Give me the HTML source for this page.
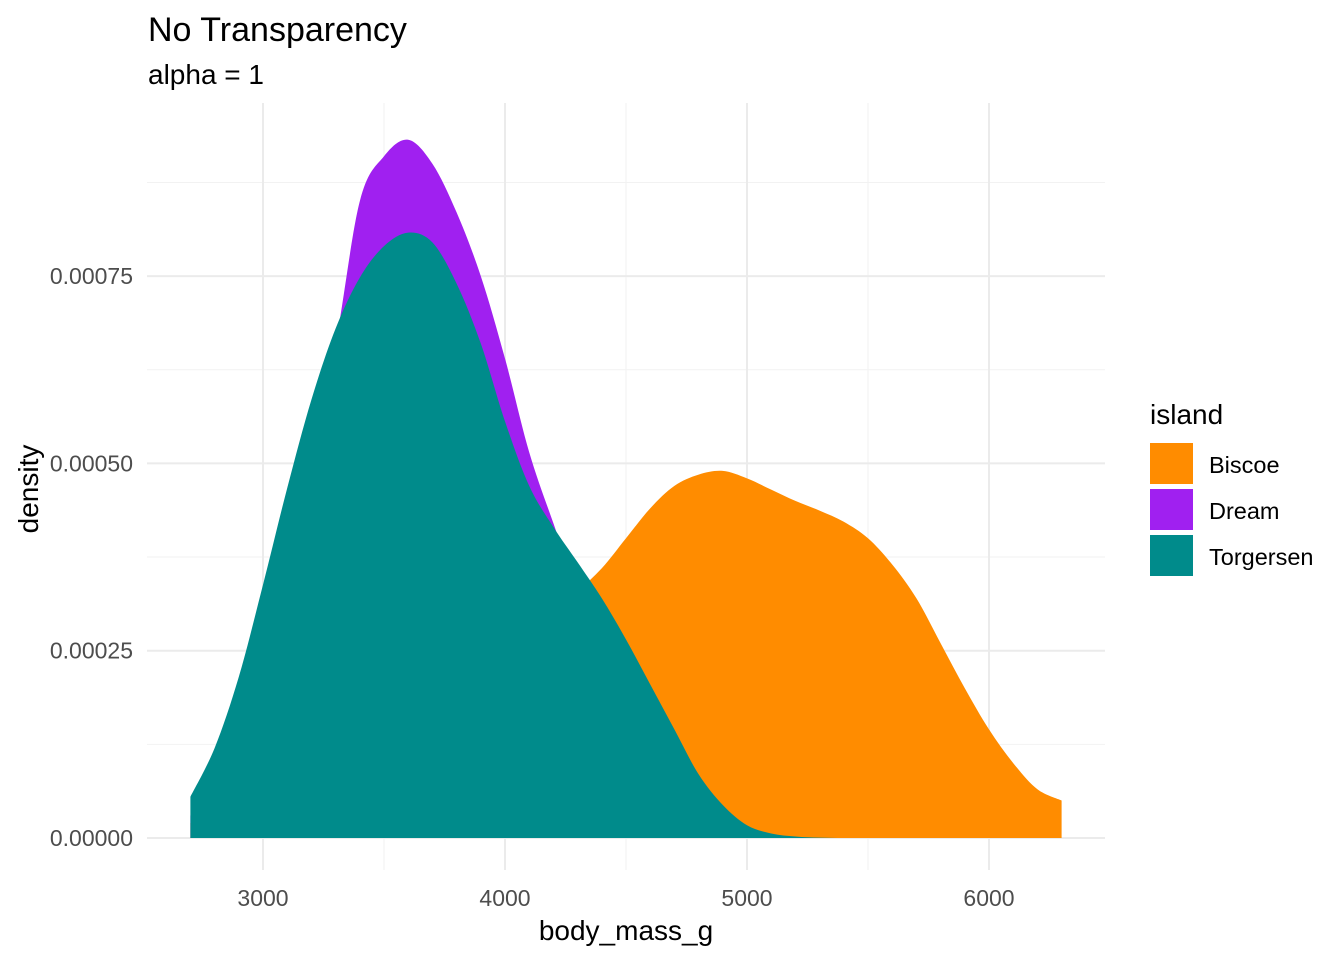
<!DOCTYPE html>
<html><head><meta charset="utf-8"><style>
body{margin:0;background:#fff}
svg text{font-family:"Liberation Sans",Arial,sans-serif}
</style></head><body>
<svg id="chart" width="1344" height="960" xmlns="http://www.w3.org/2000/svg">
<text x="148" y="41" font-size="34" fill="#000">No Transparency</text>
<text x="148" y="84" font-size="28" fill="#000">alpha = 1</text>
<g id="grid"></g>
<g id="areas"></g>
<g id="axes"></g>
<text x="626" y="940" font-size="28" text-anchor="middle" fill="#000">body_mass_g</text>
<text transform="translate(38,489) rotate(-90)" font-size="28" text-anchor="middle" fill="#000">density</text>
<g id="legend">
<text x="1150" y="424" font-size="28" fill="#000">island</text>
</g>
</svg>
<script>
const xs = [2700,2800,2900,3000,3100,3200,3300,3400,3500,3600,3700,3800,3900,4000,4100,4200,4300,4400,4500,4600,4700,4800,4900,5000,5100,5200,5300,5400,5500,5600,5700,5800,5900,6000,6100,6200,6300];
const islands = ["Biscoe","Dream","Torgersen"];
const colors = ["#FF8C00","#A020F0","#008B8B"];
const biscoe = [0.00002,0.00003,0.00005,0.00008,0.00011,0.00014,0.00017,0.0002,0.00022,0.00023,0.00024,0.00025,0.00026,0.00027,0.00029,0.00031,0.00033,0.00036,0.0004,0.00044,0.00047,0.000485,0.00049,0.00048,0.000465,0.00045,0.000437,0.000422,0.0004,0.000365,0.00032,0.00026,0.0002,0.000145,0.0001,0.000065,0.00005];
const dream = [0.00003,0.00006,0.00012,0.00023,0.00037,0.00052,0.00066,0.00085,0.00091,0.000932,0.0009,0.000835,0.00075,0.00064,0.000515,0.00042,0.00033,0.00027,0.00021,0.00015,0.00009,0.00005,0.00003,0.00001,0.000004,0.000001,0,0,0,0,0,0,0,0,0,0,0];
const torgersen = [0.000055,0.00012,0.000215,0.000338,0.000467,0.000585,0.00068,0.000748,0.00079,0.000808,0.000795,0.00074,0.00066,0.000556,0.00047,0.000415,0.000368,0.00032,0.000265,0.000205,0.000145,0.000085,0.000044,0.000017,0.000006,0.000002,0.0000005,0,0,0,0,0,0,0,0,0,0];
const xTicks = [3000,4000,5000,6000];
const xMinor = [3500,4500,5500];
const yTicks = [0,0.00025,0.0005,0.00075];
const yTickLabels = ["0.00000","0.00025","0.00050","0.00075"];
const yMinor = [0.000125,0.000375,0.000625,0.000875];

const NS="http://www.w3.org/2000/svg";
const X = v => 263 + (v-3000)*0.242;
const Y = v => 838 - v/0.00025*187.3;
const L=147,R=1105,T=103,B=870;
function mk(tag,attrs,parent){const e=document.createElementNS(NS,tag);for(const k in attrs)e.setAttribute(k,attrs[k]);parent.appendChild(e);return e;}
const grid=document.getElementById('grid');
xMinor.forEach(v=>{const e=mk('line',{x1:X(v),x2:X(v),y1:T,y2:B,stroke:'#F2F2F2','stroke-width':1},grid);

});
yMinor.forEach(v=>{const e=mk('line',{x1:L,x2:R,y1:Y(v),y2:Y(v),stroke:'#F2F2F2','stroke-width':1},grid);

});
xTicks.forEach(v=>{const e=mk('line',{x1:X(v),x2:X(v),y1:T,y2:B,stroke:'#EBEBEB','stroke-width':2},grid);

});
yTicks.forEach(v=>{const e=mk('line',{x1:L,x2:R,y1:Y(v),y2:Y(v),stroke:'#EBEBEB','stroke-width':2},grid);

});
const areas=document.getElementById('areas');
[biscoe,dream,torgersen].forEach((s,i)=>{
  const pts=xs.map((x,j)=>[X(x),Y(s[j])]);
  let d='M'+pts[0][0]+','+Y(0)+' L'+pts[0][0].toFixed(1)+','+pts[0][1].toFixed(1);
  for(let j=0;j<pts.length-1;j++){
    const p0=pts[Math.max(j-1,0)],p1=pts[j],p2=pts[j+1],p3=pts[Math.min(j+2,pts.length-1)];
    const c1=[p1[0]+(p2[0]-p0[0])/6,Math.min(Y(0),p1[1]+(p2[1]-p0[1])/6)];
    const c2=[p2[0]-(p3[0]-p1[0])/6,Math.min(Y(0),p2[1]-(p3[1]-p1[1])/6)];
    d+=' C'+c1[0].toFixed(1)+','+c1[1].toFixed(1)+' '+c2[0].toFixed(1)+','+c2[1].toFixed(1)+' '+p2[0].toFixed(1)+','+p2[1].toFixed(1);
  }
  d+=' L'+pts[pts.length-1][0]+','+Y(0)+' Z';
  const p=mk('path',{d:d,fill:colors[i]},areas);
  
  
});
const axes=document.getElementById('axes');
xTicks.forEach(v=>{const t=mk('text',{x:X(v),y:906,'font-size':23,'text-anchor':'middle',fill:'#4D4D4D'},axes);t.textContent=v;

});
yTicks.forEach((v,i)=>{const t=mk('text',{x:133,y:Y(v)+8,'font-size':23,'text-anchor':'end',fill:'#4D4D4D'},axes);t.textContent=yTickLabels[i];

});
const leg=document.getElementById('legend');
islands.forEach((n,i)=>{
  const y=443+i*46;
  const r=mk('rect',{x:1150,y:y,width:43,height:41,fill:colors[i]},leg);
  
  
  const t=mk('text',{x:1209,y:y+30,'font-size':23.5,fill:'#000'},leg);t.textContent=n;
  
  
});
</script>
</body></html>
